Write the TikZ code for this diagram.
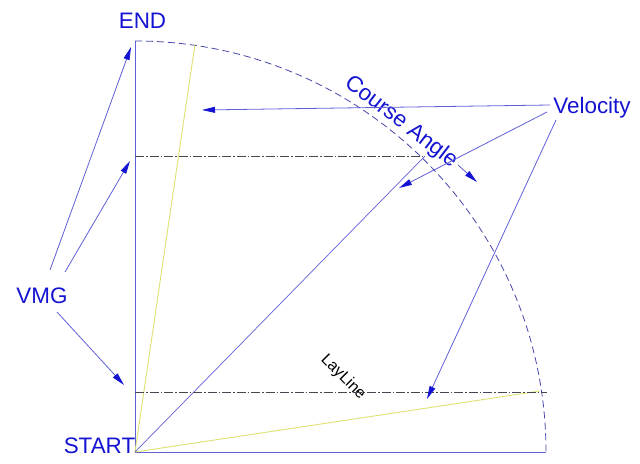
\documentclass[tikz,border=0pt]{standalone}
\usepackage{fontspec}
\setmainfont{Liberation Sans}
\usetikzlibrary{arrows.meta}
\definecolor{lbl}{RGB}{20,20,210}
\definecolor{ln}{RGB}{95,95,215}
\definecolor{arc}{RGB}{70,70,170}
\definecolor{ylw}{RGB}{222,225,115}
\definecolor{dd}{RGB}{70,70,80}
\tikzset{
  lab/.style={text=lbl,font=\fontsize{22.5}{24}\selectfont,inner sep=0pt,anchor=base},
  axis/.style={draw=ln,line width=0.8bp},
  thin/.style={draw=ln,line width=0.7bp},
  yl/.style={draw=ylw,line width=0.9bp},
  dashdot/.style={draw=dd,line width=0.7bp,dash pattern=on 9bp off 2bp on 1.5bp off 2bp},
  arcst/.style={draw=arc,line width=0.8bp,dash pattern=on 7bp off 4bp},
  arr/.style={draw=ln,line width=0.8bp,-{Triangle[length=13bp,width=6bp,fill=lbl,color=lbl]}},
}
\begin{document}
\begin{tikzpicture}[x=1bp,y=-1bp]
\useasboundingbox (0,0) rectangle (640,464);
% key points
\coordinate (O) at (135,452);
\coordinate (T) at (135,41);
\coordinate (R) at (546,452);
\coordinate (Y1) at (195,44);
\coordinate (Y2) at (540,391);
\coordinate (D) at (425,156);
\coordinate (DL) at (135,156);
\coordinate (LL) at (135,392);
\coordinate (LR) at (547,392);
% labels
\node[lab] (end) at (142.5,29) {END};
\node[lab] (start) at (99.5,453) {START};
\node[lab] (vmg) at (42,304) {VMG};
\node[lab] (vel) at (592,114) {Velocity};
\node[text=lbl,font=\fontsize{22.5}{24}\selectfont,inner sep=0pt,rotate=-37.5] (ca) at (401,122) {Course Angle};
\node[text=black,font=\fontsize{16}{17}\selectfont,inner sep=0pt,rotate=-45] (lay) at (343,377) {LayLine};
% axes
\draw[axis] (O) -- (T);
\draw[axis] (O) -- (R);
% arc
\draw[arcst] (T) arc[start angle=-90,end angle=0,radius=411];
% yellow lines
\draw[yl] (O) -- (Y1);
\draw[yl] (O) -- (Y2);
% diagonal
\draw[thin] (O) -- (D);
% dash-dot lines
\draw[dashdot] (DL) -- (D);
\draw[dashdot] (LL) -- (LR);
% VMG arrows
\coordinate (v1) at (50,270);
\coordinate (v2) at (65,272);
\coordinate (v3) at (57,312);
\coordinate (t1) at (131,47);
\coordinate (t2) at (130,161);
\coordinate (t3) at (124,385);
\draw[arr] (v1) -- (t1);
\draw[arr] (v2) -- (t2);
\draw[arr] (v3) -- (t3);
% Velocity arrows
\coordinate (s1) at (550,105);
\coordinate (s2) at (547,112);
\coordinate (s3) at (556,120);
\coordinate (e1) at (202,110);
\coordinate (e2) at (399,188);
\coordinate (e3) at (427,399);
\draw[arr] (s1) -- (e1);
\draw[arr] (s2) -- (e2);
\draw[arr] (s3) -- (e3);
% course angle arrow
\coordinate (c1) at (458,165);
\coordinate (c2) at (477,182);
\draw[arr] (c1) -- (c2);
\end{tikzpicture}
\end{document}
